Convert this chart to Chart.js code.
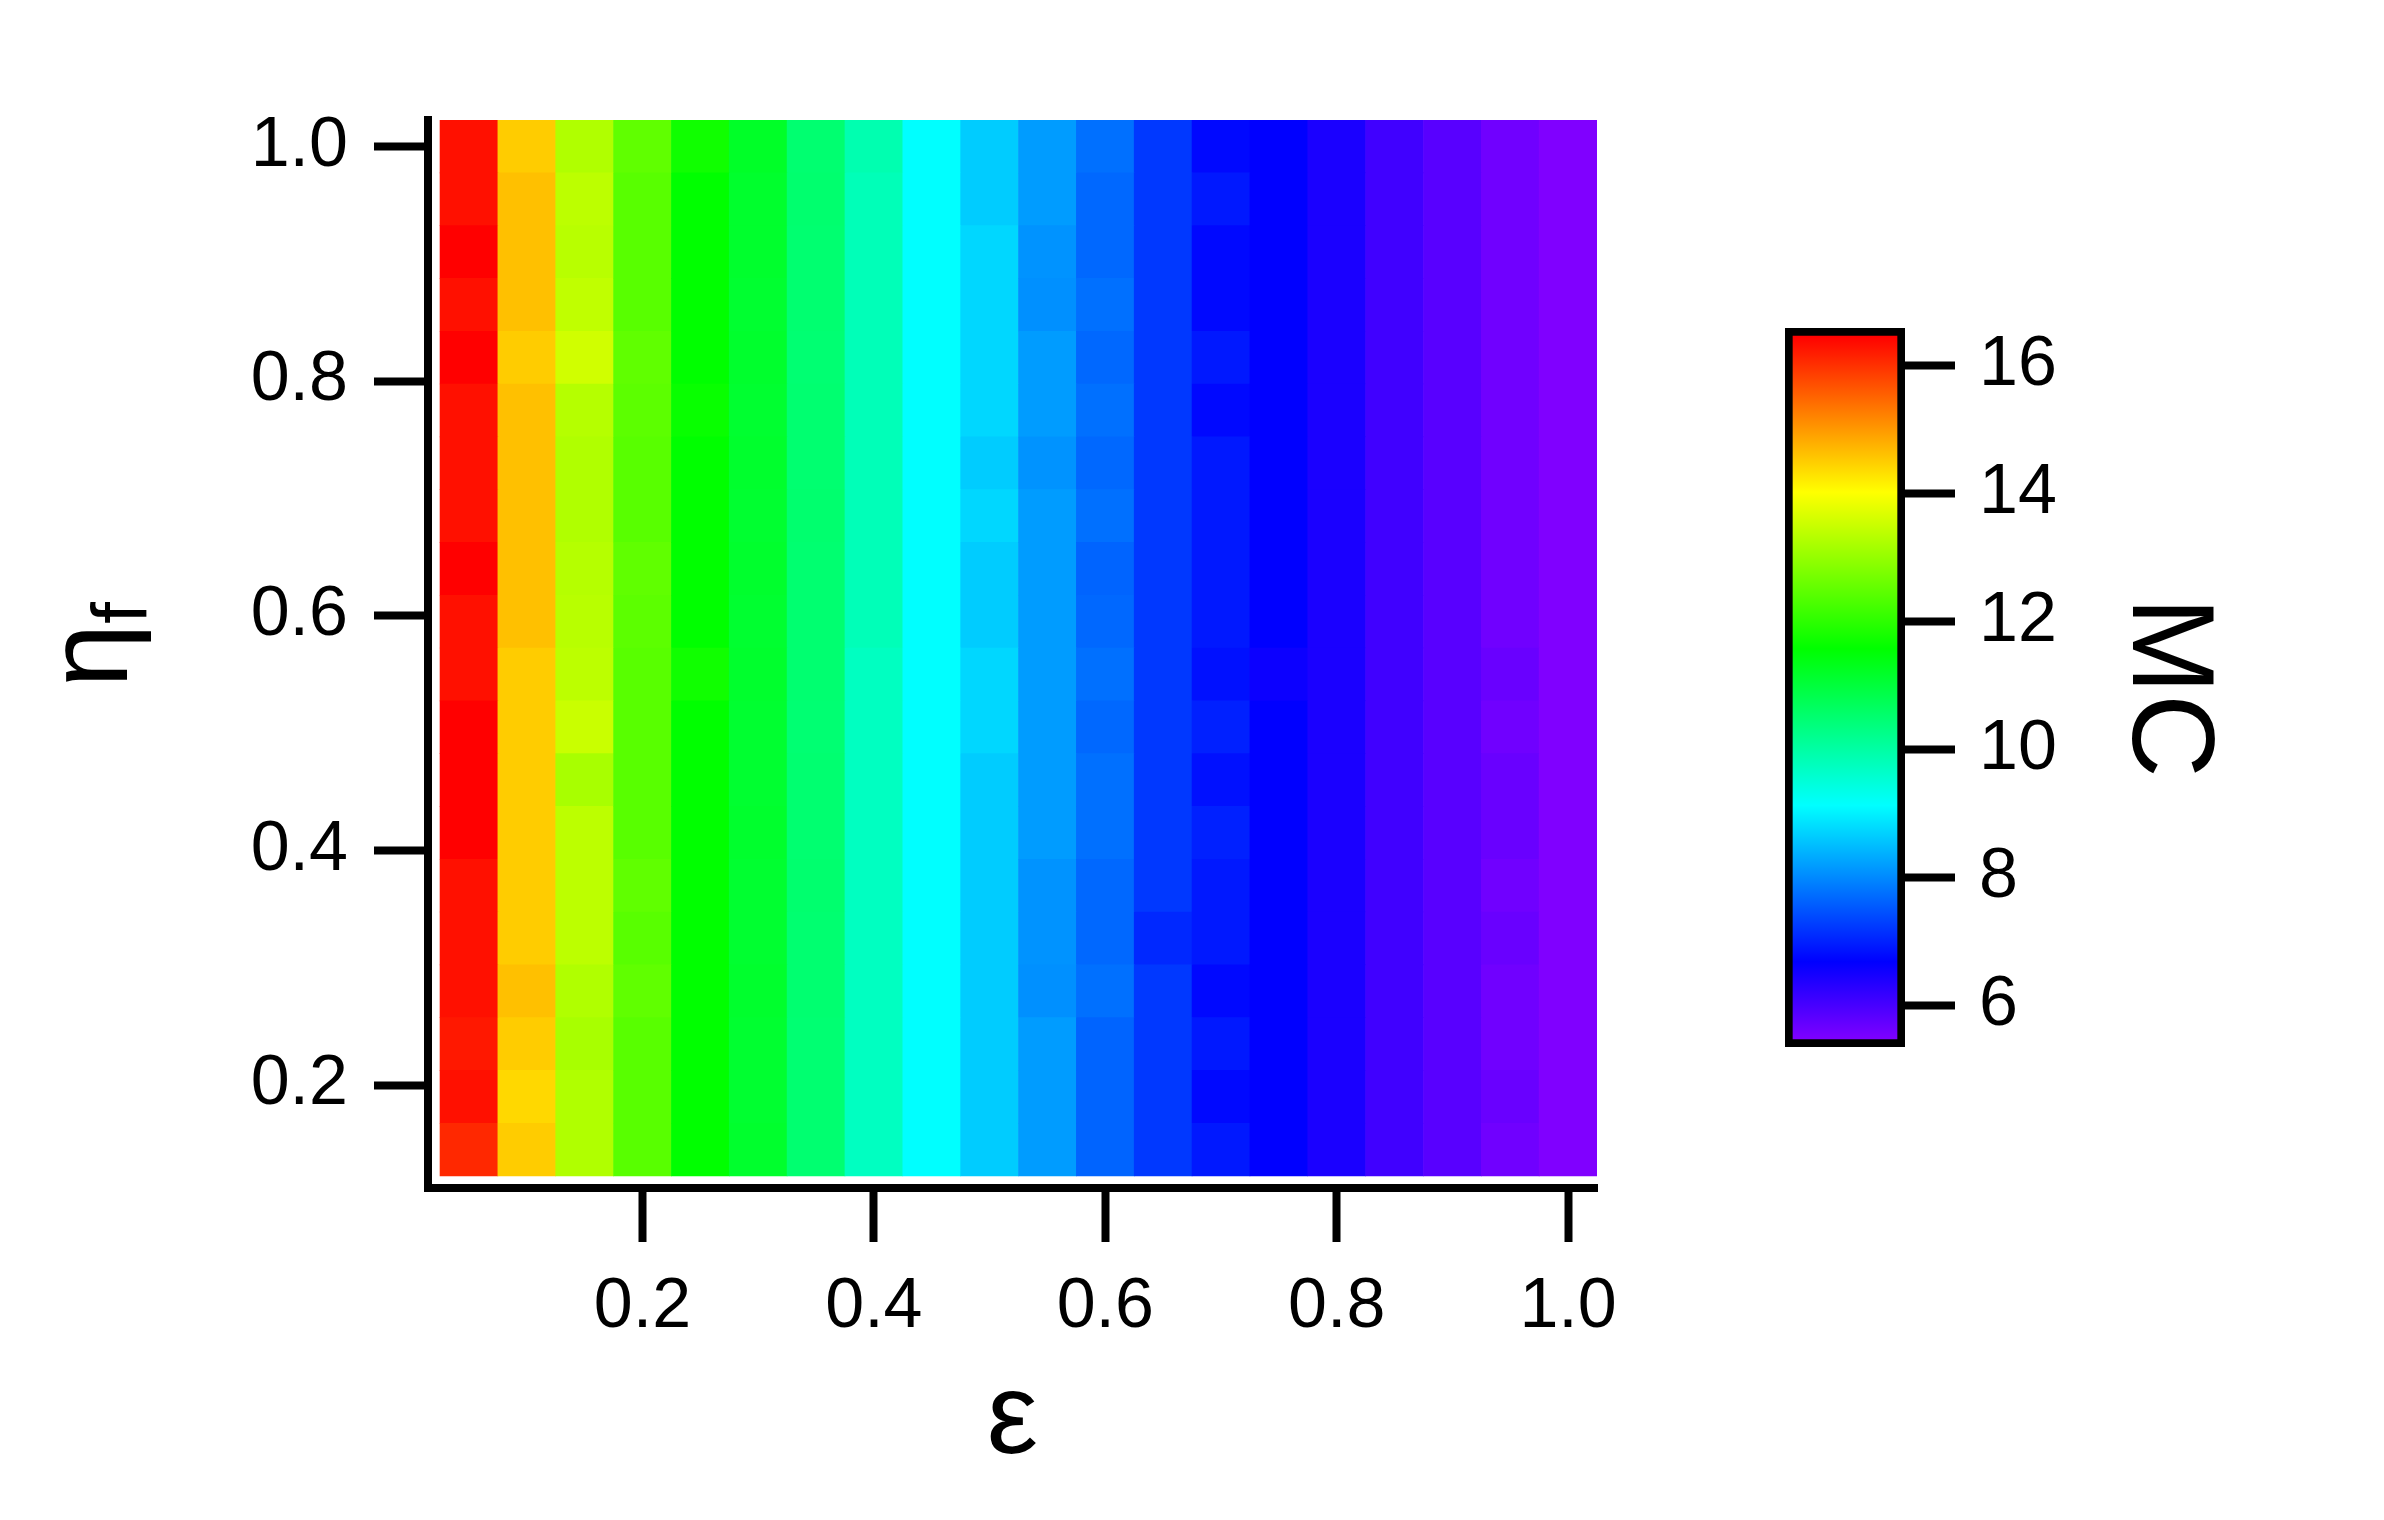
<!DOCTYPE html>
<html>
<head>
<meta charset="utf-8">
<script src="https://cdn.jsdelivr.net/npm/chart.js@4.4.1/dist/chart.umd.min.js"></script>
<style>
  html, body { margin: 0; padding: 0; background: #fff; }
  #wrap { position: relative; width: 2384px; height: 1520px; }
  #mapBox { position: absolute; left: 0; top: 0; width: 1700px; height: 1520px; }
  #barBox { position: absolute; left: 1700px; top: 0; width: 684px; height: 1520px; }
</style>
</head>
<body>
<div id="wrap">
  <div id="mapBox"><canvas id="mapChart"></canvas></div>
  <div id="barBox"><canvas id="barChart"></canvas></div>
</div>
<script>
// ── data ────────────────────────────────────────────────────────
const epsilon = [0.05,0.10,0.15,0.20,0.25,0.30,0.35,0.40,0.45,0.50,0.55,0.60,0.65,0.70,0.75,0.80,0.85,0.90,0.95,1.00];
const etaF = [0.145,0.19,0.235,0.28,0.325,0.37,0.415,0.46,0.505,0.55,0.595,0.64,0.685,0.73,0.775,0.82,0.865,0.91,0.955,1.0];
const axisTicks = [0.2,0.4,0.6,0.8,1.0];
const mcTicks = [6,8,10,12,14,16];

// MC, one row per etaF (bottom row first), one value per epsilon
const mc = [
  [16.09,14.51,13.26,12.42,11.58,11.15,10.50,9.73,9.13,8.64,8.18,7.64,7.22,6.91,6.68,6.43,6.07,5.84,5.61,5.46],
  [16.32,14.40,13.26,12.42,11.58,11.12,10.50,9.73,9.13,8.64,8.18,7.64,7.22,6.76,6.68,6.43,6.07,5.84,5.68,5.46],
  [16.24,14.51,13.19,12.42,11.58,11.12,10.48,9.73,9.13,8.64,8.18,7.64,7.22,6.91,6.68,6.43,6.07,5.84,5.61,5.46],
  [16.32,14.63,13.26,12.50,11.58,11.15,10.50,9.73,9.13,8.64,8.06,7.76,7.22,6.76,6.68,6.43,6.07,5.84,5.61,5.46],
  [16.32,14.51,13.38,12.42,11.58,11.12,10.50,9.73,9.13,8.64,8.10,7.68,7.07,6.91,6.68,6.43,6.07,5.84,5.68,5.46],
  [16.32,14.51,13.38,12.50,11.58,11.12,10.52,9.73,9.13,8.64,8.10,7.68,7.22,6.91,6.68,6.43,6.07,5.84,5.61,5.46],
  [16.47,14.51,13.38,12.42,11.58,11.15,10.50,9.73,9.13,8.64,8.18,7.76,7.22,6.99,6.68,6.43,6.07,5.84,5.68,5.46],
  [16.47,14.51,13.19,12.42,11.58,11.12,10.50,9.73,9.13,8.64,8.18,7.76,7.22,6.84,6.68,6.43,6.07,5.84,5.68,5.46],
  [16.47,14.51,13.50,12.42,11.58,11.12,10.48,9.73,9.13,8.75,8.18,7.68,7.22,6.99,6.68,6.43,6.07,5.84,5.61,5.46],
  [16.32,14.51,13.38,12.42,11.73,11.15,10.50,9.73,9.13,8.75,8.18,7.76,7.22,6.84,6.57,6.43,6.07,5.84,5.68,5.46],
  [16.32,14.63,13.34,12.46,11.58,11.12,10.50,9.81,9.13,8.64,8.18,7.68,7.22,6.91,6.68,6.43,6.07,5.84,5.61,5.46],
  [16.47,14.63,13.31,12.50,11.58,11.15,10.50,9.81,9.13,8.64,8.18,7.64,7.22,6.91,6.68,6.43,6.07,5.84,5.61,5.46],
  [16.32,14.63,13.26,12.42,11.58,11.12,10.52,9.81,9.13,8.75,8.18,7.76,7.22,6.91,6.68,6.43,6.07,5.84,5.61,5.46],
  [16.32,14.63,13.26,12.42,11.58,11.15,10.50,9.81,9.13,8.64,8.10,7.68,7.22,6.91,6.68,6.43,6.07,5.84,5.61,5.46],
  [16.32,14.63,13.31,12.46,11.65,11.12,10.50,9.81,9.13,8.75,8.18,7.76,7.22,6.76,6.68,6.43,6.07,5.84,5.61,5.46],
  [16.47,14.51,13.57,12.50,11.58,11.15,10.48,9.81,9.13,8.75,8.18,7.68,7.22,6.91,6.68,6.43,6.07,5.84,5.61,5.46],
  [16.32,14.63,13.42,12.42,11.58,11.12,10.50,9.81,9.13,8.75,8.06,7.76,7.22,6.76,6.68,6.43,6.07,5.84,5.61,5.46],
  [16.47,14.63,13.34,12.42,11.58,11.15,10.50,9.81,9.13,8.75,8.10,7.68,7.22,6.76,6.68,6.43,6.07,5.84,5.61,5.46],
  [16.32,14.63,13.38,12.42,11.58,11.15,10.52,9.81,9.13,8.64,8.18,7.68,7.22,6.91,6.68,6.43,6.07,5.84,5.61,5.46],
  [16.32,14.51,13.26,12.50,11.73,11.19,10.50,9.89,9.13,8.64,8.18,7.76,7.22,6.76,6.68,6.43,6.07,5.84,5.61,5.46]
];

// ── colour table (Igor style rainbow: red at max -> violet at min) ──
const allMc = mc.flat();
const mcMin = Math.min(...allMc);
const mcMax = Math.max(...allMc);
const hueFor = v => (mcMax - v) / (mcMax - mcMin) * 270;
const colorFor = v => `hsl(${hueFor(v).toFixed(1)},100%,50%)`;

const FONT = "'Liberation Sans', Arial, sans-serif";
Chart.defaults.font.family = FONT;
Chart.defaults.color = '#000';

const halfRow = (etaF[1] - etaF[0]) / 2;

// η_f axis title with subscript, drawn next to the y axis
const etaTitle = {
  id: 'etaTitle',
  afterDraw(chart) {
    const { ctx, chartArea } = chart;
    ctx.save();
    ctx.fillStyle = '#000';
    ctx.textBaseline = 'alphabetic';
    ctx.font = `115px ${FONT}`;
    const w1 = ctx.measureText('η').width;
    ctx.font = `78px ${FONT}`;
    const w2 = ctx.measureText('f').width;
    const midY = (chartArea.top + chartArea.bottom) / 2 - 9;
    ctx.translate(chartArea.left - 301, midY + (w1 + w2) / 2);
    ctx.rotate(-Math.PI / 2);
    ctx.font = `115px ${FONT}`;
    ctx.fillText('η', 0, 0);
    ctx.font = `78px ${FONT}`;
    ctx.fillText('f', w1, 20);
    ctx.restore();
  }
};

// 1. Heat map (one floating-bar dataset per η_f row)
new Chart(document.getElementById('mapChart'), {
  type: 'bar',
  data: {
    datasets: etaF.map((eta, r) => ({
      label: 'eta ' + eta,
      data: epsilon.map(e => ({ x: e, y: [eta - halfRow, eta + halfRow] })),
      backgroundColor: mc[r].map(colorFor),
      borderWidth: 0,
      grouped: false,
      barPercentage: 1,
      categoryPercentage: 1
    }))
  },
  options: {
    responsive: true, maintainAspectRatio: false, animation: false,
    layout: { padding: { left: 0, top: 120, right: 103, bottom: 0 } },
    plugins: { legend: { display: false }, tooltip: { enabled: false } },
    scales: {
      x: {
        type: 'linear', min: 0.0146, max: 1.025, offset: false,
        afterBuildTicks: s => { s.ticks = axisTicks.map(v => ({ value: v })); },
        afterFit: s => { s.height = 332; },
        grid: { offset: false, drawOnChartArea: false, drawTicks: true, tickLength: 54, tickWidth: 8, tickColor: '#000' },
        border: { display: true, color: '#000', width: 8 },
        ticks: { color: '#000', padding: 31, maxRotation: 0, autoSkip: false, font: { size: 70, lineHeight: 1 }, callback: v => v.toFixed(1) },
        title: { display: true, text: 'ε', color: '#000', font: { size: 115, lineHeight: 1 }, padding: { top: 0, bottom: 41 } }
      },
      y: {
        type: 'linear', min: 0.1123, max: 1.0225,
        afterBuildTicks: s => { s.ticks = axisTicks.map(v => ({ value: v })); },
        afterFit: s => { s.width = 428; },
        grid: { offset: false, drawOnChartArea: false, drawTicks: true, tickLength: 54, tickWidth: 8, tickColor: '#000' },
        border: { display: true, color: '#000', width: 8 },
        ticks: { color: '#000', padding: 26, autoSkip: false, font: { size: 70, lineHeight: 1 }, callback: v => v.toFixed(1) }
      }
    }
  },
  plugins: [etaTitle]
});

// 2. Colour scale bar
new Chart(document.getElementById('barChart'), {
  type: 'bar',
  data: {
    labels: ['MC'],
    datasets: [{
      data: [[5.351, 16.59]],
      backgroundColor: c => {
        const chart = c.chart;
        if (!chart.chartArea) return '#000';
        const ys = chart.scales.y;
        const g = chart.ctx.createLinearGradient(0, ys.getPixelForValue(mcMax), 0, ys.getPixelForValue(mcMin));
        for (let h = 0; h <= 270; h += 10) g.addColorStop(h / 270, `hsl(${h},100%,50%)`);
        return g;
      },
      borderColor: '#000', borderWidth: 8, borderSkipped: false,
      barPercentage: 1, categoryPercentage: 1
    }]
  },
  options: {
    responsive: true, maintainAspectRatio: false, animation: false,
    layout: { padding: { left: 85, top: 328, right: 161, bottom: 473 } },
    plugins: { legend: { display: false }, tooltip: { enabled: false } },
    scales: {
      x: { display: false },
      y: {
        position: 'right', min: 5.351, max: 16.59,
        afterBuildTicks: s => { s.ticks = mcTicks.map(v => ({ value: v })); },
        afterFit: s => { s.width = 318; },
        grid: { drawOnChartArea: false, drawTicks: true, tickLength: 50, tickWidth: 8, tickColor: '#000' },
        border: { display: false },
        ticks: { color: '#000', padding: 24, autoSkip: false, font: { size: 70, lineHeight: 1 } },
        title: { display: true, text: 'MC', color: '#000', font: { size: 116, lineHeight: 1 }, padding: 0 }
      }
    }
  }
});
</script>
</body>
</html>
